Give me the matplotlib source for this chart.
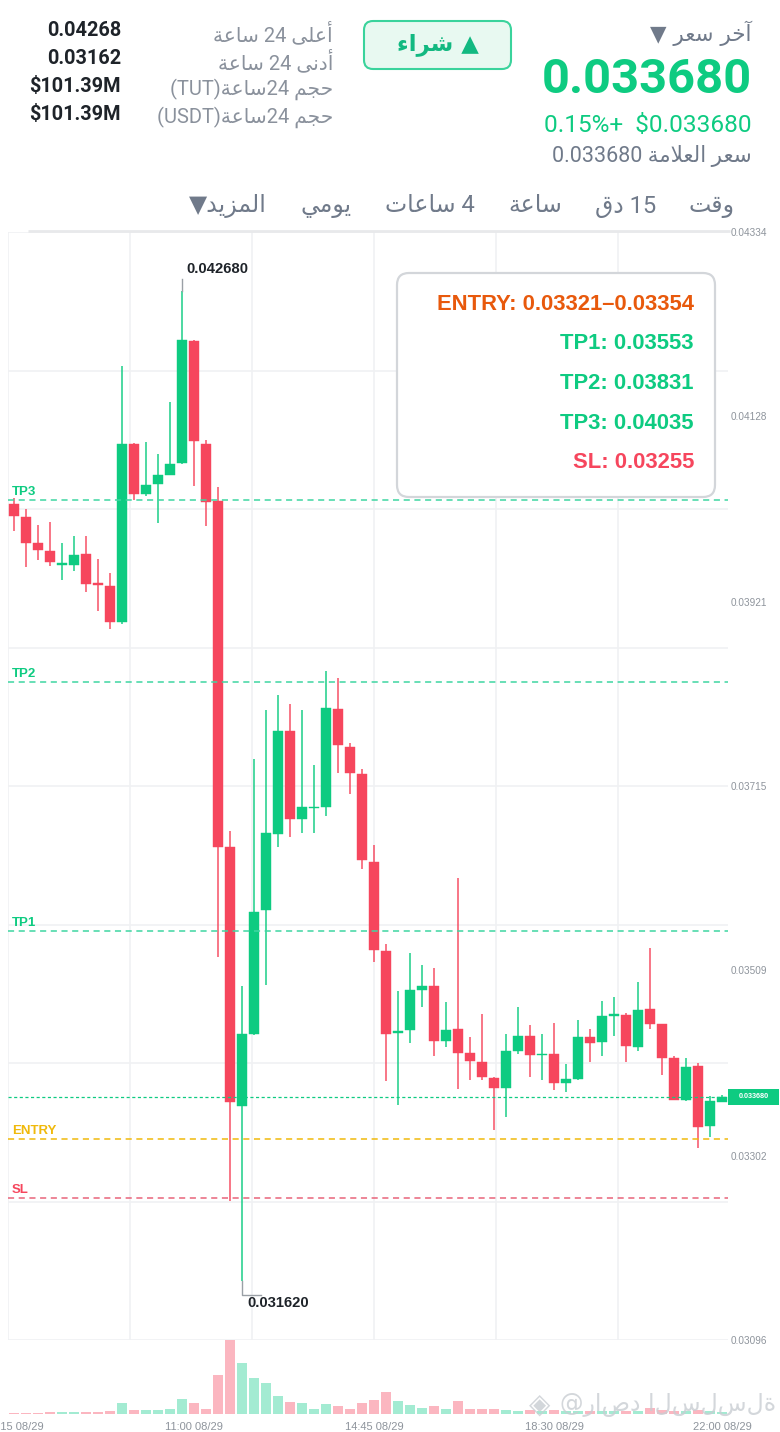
import matplotlib
matplotlib.use('Agg')
import matplotlib.pyplot as plt
from matplotlib.patches import FancyBboxPatch, Rectangle
from matplotlib.transforms import blended_transform_factory

plt.rcParams['font.family'] = ['Liberation Sans', 'DejaVu Sans']

# ---------------- data ----------------
time_labels = ['07:15 08/29', '11:00 08/29', '14:45 08/29', '18:30 08/29', '22:00 08/29']
time_label_idx = [0, 15, 30, 45, 59]

opens = [0.04030, 0.04016, 0.03986, 0.03978, 0.03962, 0.03962, 0.03974, 0.03941, 0.03939, 0.03898,
         0.04097, 0.04041, 0.04052, 0.04063, 0.04076, 0.04212, 0.04097, 0.04033, 0.03647, 0.03358,
         0.03438, 0.03576, 0.03661, 0.03777, 0.03678, 0.03690, 0.03692, 0.03801, 0.03759, 0.03728,
         0.03630, 0.03531, 0.03439, 0.03442, 0.03487, 0.03491, 0.03430, 0.03443, 0.03417, 0.03407,
         0.03389, 0.03378, 0.03419, 0.03436, 0.03414, 0.03415, 0.03383, 0.03388, 0.03435, 0.03429,
         0.03458, 0.03459, 0.03423, 0.03466, 0.03449, 0.03411, 0.03364, 0.03402, 0.03335, 0.03362]
highs = [0.04037, 0.04024, 0.04007, 0.04010, 0.03987, 0.03994, 0.03994, 0.03969, 0.03953, 0.04184,
         0.04098, 0.04099, 0.04086, 0.04144, 0.04268, 0.04213, 0.04102, 0.04049, 0.03665, 0.03492,
         0.03745, 0.03800, 0.03817, 0.03807, 0.03800, 0.03738, 0.03844, 0.03836, 0.03763, 0.03734,
         0.03649, 0.03539, 0.03486, 0.03528, 0.03515, 0.03512, 0.03474, 0.03612, 0.03434, 0.03460,
         0.03390, 0.03438, 0.03468, 0.03448, 0.03438, 0.03450, 0.03404, 0.03454, 0.03444, 0.03475,
         0.03479, 0.03461, 0.03496, 0.03534, 0.03449, 0.03413, 0.03411, 0.03405, 0.03369, 0.03370]
lows = [0.04000, 0.03960, 0.03968, 0.03961, 0.03945, 0.03955, 0.03932, 0.03911, 0.03890, 0.03896,
        0.04035, 0.04039, 0.04009, 0.04062, 0.04075, 0.04050, 0.04006, 0.03524, 0.03251, 0.03162,
        0.03437, 0.03493, 0.03647, 0.03658, 0.03662, 0.03662, 0.03682, 0.03730, 0.03706, 0.03622,
        0.03518, 0.03385, 0.03359, 0.03428, 0.03468, 0.03413, 0.03423, 0.03377, 0.03386, 0.03386,
        0.03331, 0.03345, 0.03416, 0.03390, 0.03386, 0.03375, 0.03373, 0.03386, 0.03407, 0.03413,
        0.03436, 0.03407, 0.03419, 0.03444, 0.03392, 0.03364, 0.03363, 0.03311, 0.03323, 0.03362]
closes = [0.04017, 0.03987, 0.03979, 0.03965, 0.03963, 0.03973, 0.03941, 0.03940, 0.03898, 0.04097,
          0.04041, 0.04051, 0.04062, 0.04075, 0.04213, 0.04100, 0.04032, 0.03647, 0.03362, 0.03438,
          0.03574, 0.03662, 0.03776, 0.03678, 0.03691, 0.03691, 0.03802, 0.03761, 0.03730, 0.03632,
          0.03532, 0.03438, 0.03440, 0.03487, 0.03491, 0.03430, 0.03442, 0.03417, 0.03408, 0.03390,
          0.03378, 0.03419, 0.03436, 0.03414, 0.03415, 0.03383, 0.03388, 0.03434, 0.03428, 0.03458,
          0.03459, 0.03424, 0.03465, 0.03449, 0.03411, 0.03364, 0.03401, 0.03334, 0.03363, 0.03368]
volumes = [1.0, 1.3, 1.0, 1.7, 2.3, 1.7, 2.3, 2.3, 3.0, 11.0,
           3.7, 4.0, 4.0, 5.3, 14.7, 11.3, 4.7, 39.0, 73.3, 50.3,
           35.7, 31.0, 18.3, 12.0, 10.7, 5.0, 9.7, 7.7, 5.3, 10.7,
           14.3, 21.7, 12.7, 9.3, 6.0, 8.3, 5.0, 13.3, 4.7, 4.7,
           5.3, 4.3, 3.3, 4.0, 3.3, 4.0, 2.7, 3.3, 3.3, 2.7,
           3.3, 3.3, 3.3, 5.7, 4.0, 3.3, 3.0, 4.0, 3.3, 1.7]

price_ticks = [0.04334, 0.04128, 0.03921, 0.03715, 0.03509, 0.03302, 0.03096]

tp1, tp2, tp3 = 0.03553, 0.03831, 0.04035
entry_lo, entry_hi = 0.03321, 0.03354
sl = 0.03255
last_price = 0.033680
mark_price = 0.033680
change_pct = 0.15
high_24h, low_24h = 0.04268, 0.03162
vol_tut, vol_usdt = '$101.39M', '$101.39M'

# ---------------- colours ----------------
GREEN = '#0ecb81'
RED = '#f6465d'
GREY = '#8a919c'
DARK = '#1e2329'
TICK = '#8e949c'
GRID = '#f0f1f3'

# ---------------- minimal Arabic shaping (visual order) ----------------
_DUAL = {'ئ': 0xFE89, 'ب': 0xFE8F, 'ت': 0xFE95, 'ث': 0xFE99, 'ج': 0xFE9D, 'ح': 0xFEA1, 'خ': 0xFEA5,
         'س': 0xFEB1, 'ش': 0xFEB5, 'ص': 0xFEB9, 'ض': 0xFEBD, 'ط': 0xFEC1, 'ظ': 0xFEC5, 'ع': 0xFEC9,
         'غ': 0xFECD, 'ف': 0xFED1, 'ق': 0xFED5, 'ك': 0xFED9, 'ل': 0xFEDD, 'م': 0xFEE1, 'ن': 0xFEE5,
         'ه': 0xFEE9, 'ي': 0xFEF1}
_RIGHT = {'آ': 0xFE81, 'أ': 0xFE83, 'ؤ': 0xFE85, 'إ': 0xFE87, 'ا': 0xFE8D, 'ة': 0xFE93, 'د': 0xFEA9,
          'ذ': 0xFEAB, 'ر': 0xFEAD, 'ز': 0xFEAF, 'و': 0xFEED, 'ى': 0xFEEF}
_LAMALEF = {'آ': 0xFEF5, 'أ': 0xFEF7, 'إ': 0xFEF9, 'ا': 0xFEFB}


def ar(text):
    units, i = [], 0
    while i < len(text):
        c = text[i]
        if c == 'ل' and i + 1 < len(text) and text[i + 1] in _LAMALEF:
            units.append(('LA', text[i + 1]))
            i += 2
        else:
            units.append(('C', c))
            i += 1

    def jl(u):
        return u[0] == 'C' and u[1] in _DUAL

    def jr(u):
        return u[0] == 'LA' or u[1] in _DUAL or u[1] in _RIGHT

    out = []
    for k, u in enumerate(units):
        prev = units[k - 1] if k > 0 else None
        nxt = units[k + 1] if k + 1 < len(units) else None
        cp = prev is not None and jl(prev) and jr(u)
        cn = nxt is not None and jl(u) and jr(nxt)
        if u[0] == 'LA':
            out.append(chr(_LAMALEF[u[1]] + (1 if cp else 0)))
        elif u[1] in _DUAL:
            off = 3 if (cp and cn) else 1 if cp else 2 if cn else 0
            out.append(chr(_DUAL[u[1]] + off))
        elif u[1] in _RIGHT:
            out.append(chr(_RIGHT[u[1]] + (1 if cp else 0)))
        else:
            out.append(u[1])
    return ''.join(reversed(out))


# ---------------- figure ----------------
W, H = 780, 1432
fig = plt.figure(figsize=(W / 100, H / 100), dpi=100)
fig.patch.set_facecolor('white')

PL, PR, PT, PB = 8, 728, 232, 1340
ax = fig.add_axes([PL / W, 1 - PB / H, (PR - PL) / W, (PB - PT) / H])
vax = fig.add_axes([PL / W, 1 - 1414 / H, (PR - PL) / W, 74 / H])

n = len(opens)
xs = list(range(n))
ymin, ymax = price_ticks[-1], price_ticks[0]
ax.set_xlim(-0.5, n - 0.5)
ax.set_ylim(ymin, ymax)
ypx = (ymax - ymin) / (PB - PT)   # price per pixel
xpx = n / (PR - PL)               # index per pixel

# grid
for k in range(9):
    ax.axhline(ymin + k * (ymax - ymin) / 8, color=GRID, lw=1.2, zorder=0)
for k in range(6):
    ax.axvline(-0.5 + k * (n + 1) / 6, color=GRID, lw=1.2, zorder=0)

# candles
cols = [GREEN if c >= o else RED for o, c in zip(opens, closes)]
ax.vlines(xs, lows, highs, colors=cols, lw=1.3, alpha=0.8, zorder=2)
bottoms = [min(o, c) for o, c in zip(opens, closes)]
heights = [max(abs(c - o), 1.6 * ypx) for o, c in zip(opens, closes)]
ax.bar(xs, heights, bottom=bottoms, width=0.82, color=cols, edgecolor=cols, lw=0.3, zorder=3)

# level lines
levels = [(tp3, 'TP3', '#3fd6a2', GREEN), (tp2, 'TP2', '#3fd6a2', GREEN), (tp1, 'TP1', '#3fd6a2', GREEN),
          (entry_lo, 'ENTRY', '#f0b90b', '#f0b90b'), (sl, 'SL', '#e8647a', RED)]
btrans = blended_transform_factory(ax.transAxes, ax.transData)
for val, name, lc, tc in levels:
    ax.axhline(val, color=lc, ls=(0, (4, 3)), lw=1.1, zorder=4)
    ax.annotate(name, xy=(0, val), xycoords=btrans, xytext=(4, 8), textcoords='offset pixels',
                ha='left', va='center', fontsize=9.5, fontweight='bold', color=tc, zorder=5)
ax.axhline(last_price, color=GREEN, ls=(0, (2.5, 2)), lw=0.9, zorder=4)

# current price tag
tag_w = 51 / (PR - PL)
ax.add_patch(Rectangle((1.0, last_price - 8 * ypx), tag_w, 16 * ypx, transform=btrans,
                       facecolor=GREEN, edgecolor='none', clip_on=False, zorder=6))
ax.text(1.0 + tag_w / 2, last_price, f'{last_price:.6f}', transform=btrans, ha='center', va='center',
        fontsize=5.2, fontweight='bold', color='white', clip_on=False, zorder=7)

# high / low annotations
ih = highs.index(max(highs))
il = lows.index(min(lows))
ax.plot([ih, ih], [max(highs), max(highs) + 12 * ypx], color='#9aa0a6', lw=1, zorder=5)
ax.text(ih + 4 * xpx, max(highs) + 22 * ypx, f'{max(highs):.6f}', ha='left', va='center',
        fontsize=10.7, fontweight='bold', color=DARK, zorder=6)
ax.plot([il, il, il + 19 * xpx], [min(lows), min(lows) - 14 * ypx, min(lows) - 14 * ypx],
        color='#9aa0a6', lw=1, zorder=5)
ax.text(il + 5 * xpx, min(lows) - 22 * ypx, f'{min(lows):.6f}', ha='left', va='center',
        fontsize=10.7, fontweight='bold', color=DARK, zorder=6)

# axes styling
ax.set_facecolor('none')
for s in ax.spines.values():
    s.set_visible(False)
ax.yaxis.tick_right()
ax.set_yticks(price_ticks)
ax.set_yticklabels([f'{v:.5f}' for v in price_ticks])
ax.tick_params(axis='y', length=0, pad=2, labelsize=7.2, labelcolor=TICK)
ax.set_xticks([])

# volume
vcols = ['#a3ebd2' if c >= o else '#fbb6c0' for o, c in zip(opens, closes)]
vax.bar(xs, volumes, width=0.82, color=vcols, edgecolor='none')
vax.set_xlim(-0.5, n - 0.5)
vax.set_ylim(0, max(volumes) * 1.005)
for s in vax.spines.values():
    s.set_visible(False)
vax.set_yticks([])
vax.set_xticks(time_label_idx)
vax.set_xticklabels(time_labels)
vax.tick_params(axis='x', length=0, pad=5.5, labelsize=8, labelcolor=TICK)
vax.set_facecolor('none')

# ---------------- overlay (pixel coordinates) ----------------
ov = fig.add_axes([0, 0, 1, 1])
ov.set_xlim(0, W)
ov.set_ylim(H, 0)
ov.axis('off')

ov.plot([28, 730], [230.5, 230.5], color='#e8e9eb', lw=2, solid_capstyle='butt')

RB = ['Roboto', 'DejaVu Sans']
# right block
ov.text(752, 33, '▼ ' + ar('آخر سعر'), ha='right', va='center', fontsize=15.5, color='#707a8a',
        family=['DejaVu Sans'])
ov.text(752, 80, f'{last_price:.6f}', ha='right', va='center', fontsize=35.2, fontweight='bold',
        color=GREEN, family=RB)
ov.text(752, 126, f'{change_pct:.2f}%+  ${last_price:.6f}', ha='right', va='center', fontsize=17.6,
        color=GREEN, family=RB)
ov.text(752, 156, f'{mark_price:.6f} ' + ar('سعر العلامة'), ha='right', va='center', fontsize=15.5,
        color='#707a8a', family=RB)

# buy button
ov.add_patch(FancyBboxPatch((364, 21), 147, 48, boxstyle='round,pad=0,rounding_size=9',
                            facecolor='#e8f9f1', edgecolor='#3ad39c', lw=1.5))
ov.text(437.5, 45, ar('شراء') + ' ▲', ha='center', va='center', fontsize=16.5, fontweight='bold',
        color='#12b981', family=['DejaVu Sans'])

# stats block
stat_labels = [ar('ساعة') + ' 24 ' + ar('أعلى'),
               ar('ساعة') + ' 24 ' + ar('أدنى'),
               '(TUT)' + ar('ساعة') + '24 ' + ar('حجم'),
               '(USDT)' + ar('ساعة') + '24 ' + ar('حجم')]
stat_values = [f'{high_24h:.5f}', f'{low_24h:.5f}', vol_tut, vol_usdt]
for k, (lab, val) in enumerate(zip(stat_labels, stat_values)):
    y = 32 + 28 * k
    ov.text(333, y + 1, lab, ha='right', va='center', fontsize=14.5, color=GREY, family=RB)
    ov.text(121, y - 1, val, ha='right', va='center', fontsize=14.3, fontweight='bold', color=DARK,
            family=RB)

# tabs
tabs = [(712, ar('وقت')), (626, ar('دق') + ' 15'), (535, ar('ساعة')), (430, ar('ساعات') + ' 4'),
        (326, ar('يومي')), (228, '▼' + ar('المزيد'))]
for x, t in tabs:
    ov.text(x, 206, t, ha='center', va='center', fontsize=17, color='#707a8a', family=RB)

# signal info box
ov.add_patch(FancyBboxPatch((397, 273), 318, 224, boxstyle='round,pad=0,rounding_size=12',
                            facecolor='white', edgecolor='#d3d6da', lw=1.6, zorder=5))
info = [(f'ENTRY: {entry_lo:.5f}\u2013{entry_hi:.5f}', '#e8590c'),
        (f'TP1: {tp1:.5f}', GREEN), (f'TP2: {tp2:.5f}', GREEN), (f'TP3: {tp3:.5f}', GREEN),
        (f'SL: {sl:.5f}', RED)]
for k, (t, c) in enumerate(info):
    ov.text(694, 304 + 39.7 * k, t, ha='right', va='center', fontsize=15.8, fontweight='bold',
            color=c, zorder=6)

# watermark
ov.text(540, 1405, '◈', ha='center', va='center', fontsize=20, color='#c9cdd2', alpha=0.8,
        family=['DejaVu Sans'])
ov.text(560, 1405, '@راصد السلسلة', ha='left', va='center', fontsize=17, color='#c9cdd2',
        alpha=0.8, family=['DejaVu Sans'])

fig.savefig('out.png', dpi=100, facecolor='white')
